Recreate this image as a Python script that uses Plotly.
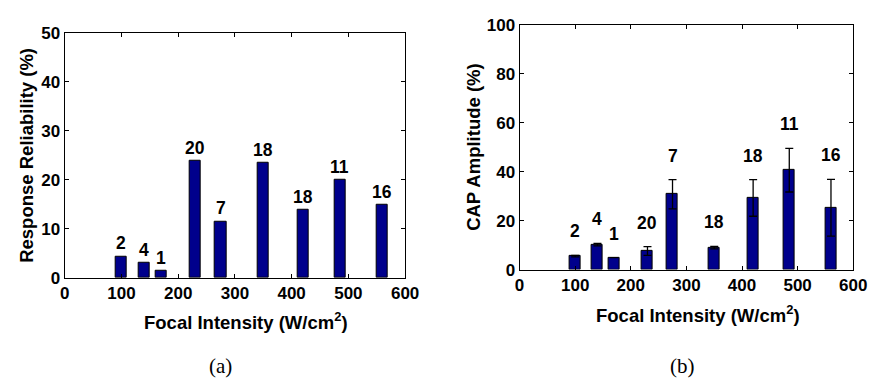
import plotly.graph_objects as go

# Focal intensities (W/cm^2) shared by both panels
intensity = [100, 140, 170, 230, 275, 350, 420, 485, 560]
# Number of trials at each intensity
n_trials = ["2", "4", "1", "20", "7", "18", "18", "11", "16"]

# Panel (a): response reliability (%)
reliability = [4.4, 3.1, 1.4, 23.8, 11.5, 23.4, 13.8, 20.0, 14.9]

# Panel (b): CAP amplitude (%) with error
cap_amp = [5.5, 10.2, 4.9, 7.6, 30.8, 9.0, 29.3, 40.6, 25.3]
cap_err = [0.3, 0.5, 0.0, 1.8, 6.0, 0.5, 7.5, 8.9, 11.6]

BAR = "#00008c"
FONT = "Arial"
SERIF = "Times New Roman"
TICK_FS = 17
TITLE_FS = 18.5
LABEL_FS = 17.5
W, H = 877, 380


def px(x, y):
    """Pixel position (from top-left) to paper coordinates."""
    return x / W, (H - y) / H


fig = go.Figure()
fig.add_trace(go.Bar(
    x=intensity, y=reliability, width=20,
    marker=dict(color=BAR, line=dict(color="black", width=1)),
    xaxis="x", yaxis="y", showlegend=False))
fig.add_trace(go.Bar(
    x=intensity, y=cap_amp, width=20,
    marker=dict(color=BAR, line=dict(color="black", width=1)),
    error_y=dict(type="data", array=cap_err, color="black", thickness=1.3, width=4),
    xaxis="x2", yaxis="y2", showlegend=False))

annotations = []
for xi, yi, lab in zip(intensity, reliability, n_trials):
    annotations.append(dict(x=xi, y=yi, xref="x", yref="y", text=f"<b>{lab}</b>",
                            showarrow=False, yanchor="middle", yshift=13,
                            font=dict(family=FONT, size=LABEL_FS, color="black")))
for xi, yi, ei, lab in zip(intensity, cap_amp, cap_err, n_trials):
    annotations.append(dict(x=xi, y=yi + ei, xref="x2", yref="y2", text=f"<b>{lab}</b>",
                            showarrow=False, yanchor="middle", yshift=24,
                            font=dict(family=FONT, size=LABEL_FS, color="black")))

title_font = dict(family=FONT, size=TITLE_FS, color="black")
# Axis titles
for text, (cx, cy), angle in (
        ("<b>Focal Intensity (W/cm<sup>2</sup>)</b>", (246, 328), 0),
        ("<b>Focal Intensity (W/cm<sup>2</sup>)</b>", (708, 321), 0),
        ("<b>Response Reliability (%)</b>", (22, 154), -90),
        ("<b>CAP Amplitude (%)</b>", (479, 145.5), -90)):
    ax, ay = px(cx, cy)
    annotations.append(dict(x=ax, y=ay, xref="paper", yref="paper", text=text,
                            textangle=angle, showarrow=False, xanchor="center",
                            yanchor="middle", font=title_font))

# Panel letters
for label, cx in (("(a)", 220), ("(b)", 692)):
    ax, ay = px(cx, 376)
    annotations.append(dict(x=ax, y=ay, xref="paper", yref="paper",
                            text=label, showarrow=False, xanchor="center", yanchor="middle",
                            font=dict(family=SERIF, size=21, color="black")))

axis_common = dict(showline=True, mirror="ticks", linecolor="black", linewidth=1,
                   ticks="inside", ticklen=4, tickcolor="black", showgrid=False,
                   zeroline=False, tickprefix="<b>", ticksuffix="</b>",
                   tickfont=dict(family=FONT, size=TICK_FS, color="black"))

fig.update_layout(
    width=W, height=H,
    margin=dict(l=0, r=0, t=0, b=0),
    paper_bgcolor="white", plot_bgcolor="white",
    font=dict(family=FONT, color="black"),
    xaxis=dict(domain=[61 / W, 409 / W], range=[0, 600], dtick=100, anchor="y", **axis_common),
    yaxis=dict(domain=[97 / H, 355 / H], range=[0, 50], dtick=10, anchor="x", **axis_common),
    xaxis2=dict(domain=[526 / W, 867 / W], range=[0, 600], dtick=100, anchor="y2", **axis_common),
    yaxis2=dict(domain=[105.7 / H, 363.3 / H], range=[0, 100], dtick=20, anchor="x2", **axis_common),
    annotations=annotations,
    bargap=0,
)

fig.write_html("out.html")
